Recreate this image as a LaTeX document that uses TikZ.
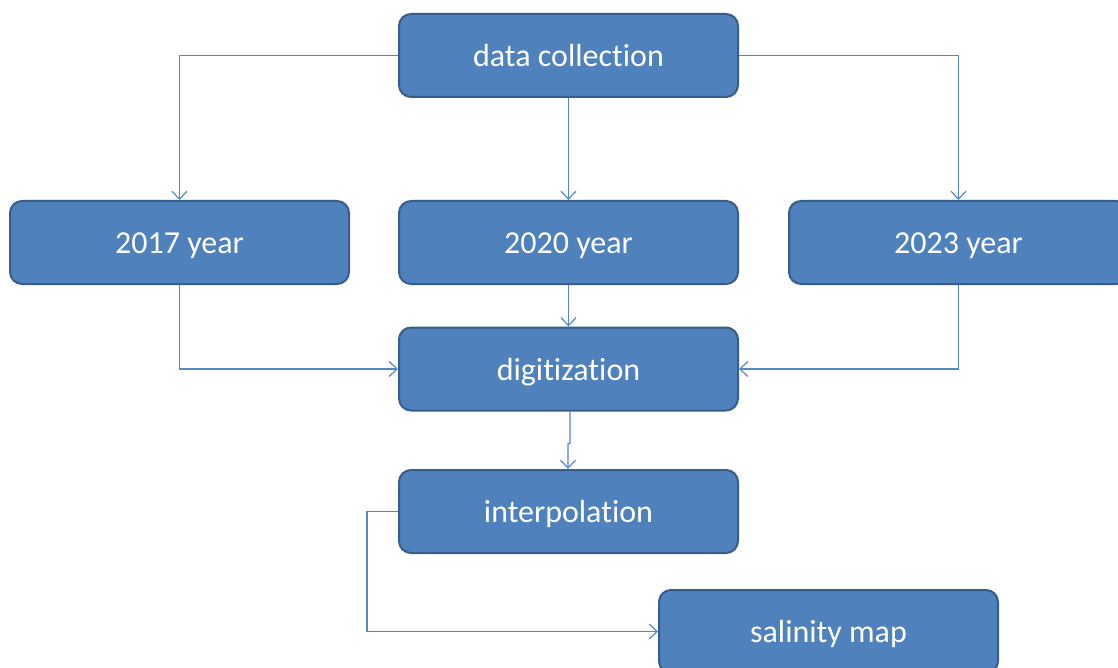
\documentclass[tikz,border=0pt]{standalone}
\usepackage{fontspec}
\setmainfont[RawFeature={-liga;-clig;-dlig}]{Carlito}
\usetikzlibrary{arrows.meta}
\definecolor{boxfill}{RGB}{79,129,189}
\definecolor{boxline}{RGB}{56,93,138}
\definecolor{conn}{RGB}{84,135,196}
\begin{document}
\begin{tikzpicture}[x=1pt,y=-1pt,
  stepbox/.style={draw=boxline,fill=boxfill,line width=2pt,rounded corners=12pt,
    minimum width=339pt,minimum height=83pt,inner sep=0pt,text=white,
    text height=26pt,text depth=4pt,
    font=\fontsize{32}{38}\selectfont},
  link/.style={draw=conn,line width=1.4pt,-{Straight Barb[length=8pt,width=15pt,line width=1.2pt]}}]
\useasboundingbox (0,0) rectangle (1118,668);
\clip (0,0) rectangle (1118,668);
\node[stepbox] (dc) at (568.5,55.5) {data collection};
\node[stepbox] (y17) at (179.5,242.5) {2017 year};
\node[stepbox] (y20) at (568.5,242.5) {2020 year};
\node[stepbox] (y23) at (958.5,242.5) {2023 year};
\node[stepbox] (dig) at (568.5,369) {digitization};
\node[stepbox] (int) at (568.5,511.5) {interpolation};
\node[stepbox] (sal) at (828.5,631.5) {salinity map};
\coordinate (k1) at (570,443);
\coordinate (k2) at (568,444);
\draw[link] (dc.west) -| (y17.north);
\draw[link] (dc.south) -- (y20.north);
\draw[link] (dc.east) -| (y23.north);
\draw[link] (y17.south) |- (dig.west);
\draw[link] (y20.south) -- (dig.north);
\draw[link] (y23.south) |- (dig.east);
\draw[link] (dig.south -| k1) -- (k1) -- (k2) -- (int.north -| k2);
\draw[link] (int.west) -- ++(-31,0) |- (sal.west);
\end{tikzpicture}
\end{document}
